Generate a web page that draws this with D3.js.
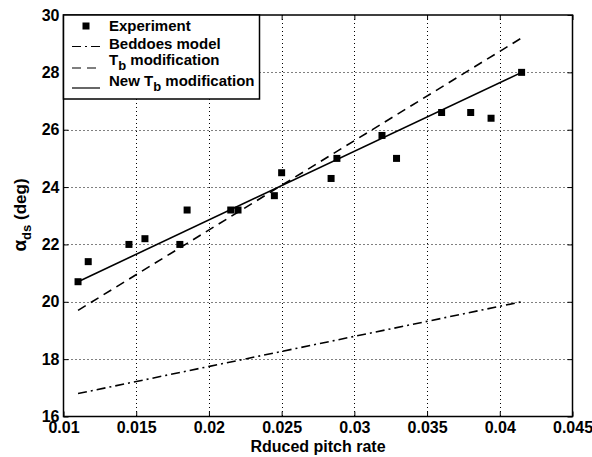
<!DOCTYPE html>
<html>
<head>
<meta charset="utf-8">
<script src="https://cdn.jsdelivr.net/npm/d3@7"></script>
<style>
  html, body { margin: 0; padding: 0; background: #fff; }
  text { font-family: "Liberation Sans", Arial, sans-serif; font-weight: bold; fill: #000; }
</style>
</head>
<body>
<svg id="chart" width="592" height="457"></svg>
<script>
// ---- data ----
const expX = [0.011, 0.0117, 0.0145, 0.0156, 0.018, 0.0185, 0.0215, 0.022, 0.0245, 0.025, 0.0284, 0.0288, 0.0319, 0.0329, 0.036, 0.038, 0.0394, 0.0415];
const expY = [20.7, 21.4, 22.0, 22.2, 22.0, 23.2, 23.2, 23.2, 23.7, 24.5, 24.3, 25.0, 25.8, 25.0, 26.6, 26.6, 26.4, 28.0];
const lineX = [0.011, 0.0415];
const beddoesY = [16.8, 20.0];
const tbModY = [19.7, 29.2];
const newTbY = [20.7, 28.0];
const xTicks = [0.01, 0.015, 0.02, 0.025, 0.03, 0.035, 0.04, 0.045];
const xTickLabels = ["0.01", "0.015", "0.02", "0.025", "0.03", "0.035", "0.04", "0.045"];
const yTicks = [16, 18, 20, 22, 24, 26, 28, 30];
const legendLabels = ["Experiment", "Beddoes model", "T|b| modification", "New T|b| modification"];

// ---- layout ----
const L = 63.5, R = 572.5, T = 15, B = 416.5;
const svg = d3.select("#chart");
const x = d3.scaleLinear().domain([0.01, 0.045]).range([L, R]);
const y = d3.scaleLinear().domain([16, 30]).range([B, T]);

// grid
const grid = svg.append("g").attr("stroke", "#000").attr("stroke-width", 1).attr("stroke-dasharray", "1,3");
grid.selectAll(".gx").data(xTicks.slice(1, -1)).join("line")
  .attr("x1", d => Math.round(x(d)) + 0.5).attr("x2", d => Math.round(x(d)) + 0.5)
  .attr("y1", T).attr("y2", B);
grid.selectAll(".gy").data(yTicks.slice(1, -1)).join("line")
  .attr("y1", d => Math.round(y(d)) + 0.5).attr("y2", d => Math.round(y(d)) + 0.5)
  .attr("x1", L).attr("x2", R);

// axes
const fmt = (d, i) => xTickLabels[i];
const styleText = g => g.selectAll("text").attr("font-size", 16).attr("font-family", "Liberation Sans, Arial").attr("font-weight", "bold");
svg.append("g").attr("transform", `translate(0,${B})`)
  .call(d3.axisBottom(x).tickValues(xTicks).tickFormat(fmt).tickSize(-5).tickPadding(4))
  .call(g => { g.select(".domain").remove(); styleText(g); g.selectAll("text").attr("dy", "0.78em"); });
svg.append("g").attr("transform", `translate(0,${T})`)
  .call(d3.axisTop(x).tickValues(xTicks).tickFormat("").tickSize(-5))
  .call(g => g.select(".domain").remove());
svg.append("g").attr("transform", `translate(${L},0)`)
  .call(d3.axisLeft(y).tickValues(yTicks).tickFormat(d3.format("d")).tickSize(-5).tickPadding(4))
  .call(g => { g.select(".domain").remove(); styleText(g); });
svg.append("g").attr("transform", `translate(${R},0)`)
  .call(d3.axisRight(y).tickValues(yTicks).tickFormat("").tickSize(-5))
  .call(g => g.select(".domain").remove());

svg.append("rect").attr("x", L).attr("y", T).attr("width", R - L).attr("height", B - T)
  .attr("fill", "none").attr("stroke", "#000").attr("stroke-width", 1.5);

// lines
const lineGen = yy => d3.line().x((d, i) => x(lineX[i])).y((d, i) => y(yy[i]))(lineX);
svg.append("path").attr("d", lineGen(beddoesY)).attr("fill", "none").attr("stroke", "#000")
  .attr("stroke-width", 1.6).attr("stroke-dasharray", "9,4,2,4");
svg.append("path").attr("d", lineGen(tbModY)).attr("fill", "none").attr("stroke", "#000")
  .attr("stroke-width", 1.6).attr("stroke-dasharray", "9,6");
svg.append("path").attr("d", lineGen(newTbY)).attr("fill", "none").attr("stroke", "#000")
  .attr("stroke-width", 1.6);

// points
svg.append("g").selectAll("rect").data(expX).join("rect")
  .attr("x", (d, i) => x(d) - 3.5).attr("y", (d, i) => y(expY[i]) - 3.5)
  .attr("width", 7).attr("height", 7).attr("fill", "#000");

// labels
svg.append("text").attr("x", (L + R) / 2).attr("y", 452).attr("text-anchor", "middle")
  .attr("font-size", 16).text("Rduced pitch rate");
const yl = svg.append("text").attr("transform", "translate(26,215) rotate(-90)").attr("text-anchor", "middle").attr("font-size", 17);
yl.append("tspan").attr("font-size", 19).text("α");
yl.append("tspan").attr("font-size", 13).attr("dy", 5).text("ds");
yl.append("tspan").attr("dy", -5).text(" (deg)");

// legend
const lg = svg.append("g");
lg.append("rect").attr("x", L).attr("y", T).attr("width", 196).attr("height", 84)
  .attr("fill", "#fff").attr("stroke", "#000").attr("stroke-width", 1.5);
const rows = [26, 43.5, 60, 81];
const sx1 = 72, sx2 = 100, tx = 109;
lg.append("rect").attr("x", 86 - 3.5).attr("y", rows[0] - 3.5).attr("width", 7).attr("height", 7).attr("fill", "#000");
lg.append("line").attr("x1", sx1).attr("x2", sx2).attr("y1", rows[1] + 3).attr("y2", rows[1] + 3)
  .attr("stroke", "#000").attr("stroke-width", 1.2).attr("stroke-dasharray", "9,4,2,4");
lg.append("line").attr("x1", sx1).attr("x2", sx2).attr("y1", rows[2] + 8).attr("y2", rows[2] + 8)
  .attr("stroke", "#000").attr("stroke-width", 1.2).attr("stroke-dasharray", "9,6");
lg.append("line").attr("x1", sx1).attr("x2", sx2).attr("y1", rows[3] + 7).attr("y2", rows[3] + 7)
  .attr("stroke", "#000").attr("stroke-width", 1.2);
legendLabels.forEach((lab, i) => {
  const t = lg.append("text").attr("x", tx).attr("y", rows[i] + 5).attr("font-size", 15);
  const parts = lab.split("|");
  if (parts.length === 1) { t.text(lab); return; }
  t.append("tspan").text(parts[0]);
  t.append("tspan").attr("dy", 5).attr("font-size", 13).text(parts[1]);
  t.append("tspan").attr("dy", -5).text(parts[2]);
});
</script>
</body>
</html>
